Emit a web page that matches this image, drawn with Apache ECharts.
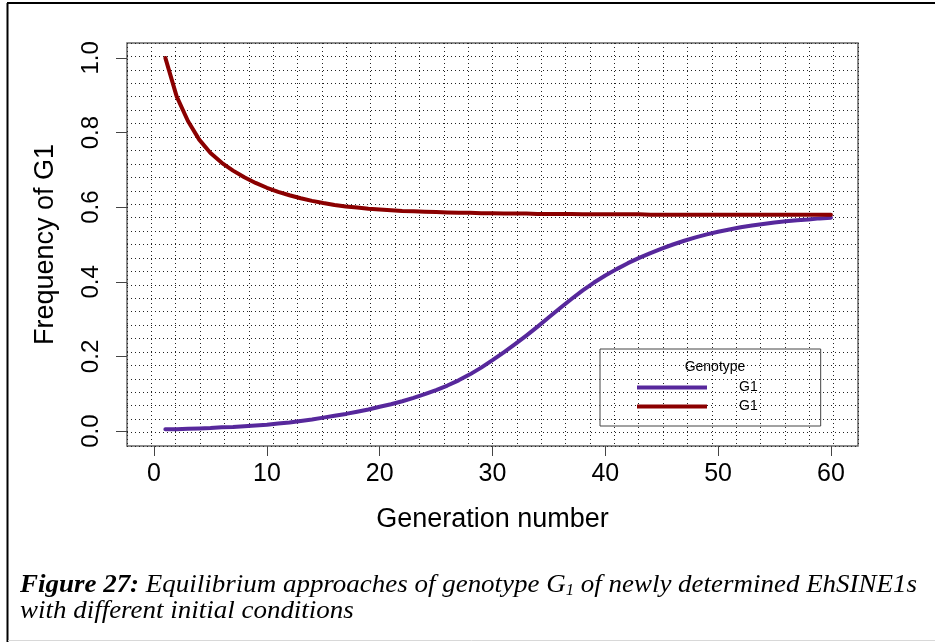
<!DOCTYPE html>
<html>
<head>
<meta charset="utf-8">
<script src="https://cdn.jsdelivr.net/npm/echarts@6/dist/echarts.min.js"></script>
<style>
html,body{margin:0;padding:0;background:#fff;}
#c{width:935px;height:642px;}
</style>
</head>
<body>
<div id="c"></div>
<script>
// ---------- data ----------
const generations = [1,2,3,4,5,6,7,8,9,10,11,12,13,14,15,16,17,18,19,20,
  21,22,23,24,25,26,27,28,29,30,31,32,33,34,35,36,37,38,39,40,
  41,42,43,44,45,46,47,48,49,50,51,52,53,54,55,56,57,58,59,60];
// G1 starting near 0
const lowStart = [0.005,0.005,0.006,0.007,0.008,0.010,0.011,0.013,0.015,0.017,
  0.020,0.023,0.027,0.031,0.036,0.041,0.046,0.052,0.058,0.065,
  0.072,0.080,0.089,0.099,0.110,0.122,0.136,0.152,0.170,0.190,
  0.211,0.233,0.256,0.280,0.305,0.330,0.354,0.377,0.398,0.417,
  0.434,0.450,0.464,0.477,0.489,0.500,0.510,0.519,0.527,0.534,
  0.540,0.546,0.551,0.555,0.559,0.562,0.565,0.567,0.570,0.572];
// G1 starting at 1
const highStart = [1.000,0.897,0.831,0.781,0.745,0.719,0.698,0.680,0.665,0.652,
  0.641,0.632,0.624,0.617,0.611,0.606,0.602,0.599,0.596,0.594,
  0.592,0.590,0.589,0.588,0.587,0.586,0.585,0.585,0.584,0.584,
  0.583,0.583,0.583,0.582,0.582,0.582,0.582,0.581,0.581,0.581,
  0.581,0.581,0.581,0.580,0.580,0.580,0.580,0.580,0.580,0.580,
  0.580,0.580,0.580,0.580,0.580,0.580,0.580,0.580,0.580,0.580];
const xTicks = [0,10,20,30,40,50,60];
const yTicks = [0,0.2,0.4,0.6,0.8,1.0];
const seriesIds = ['G1 (low start)','G1 (high start)'];
const seriesLabel = 'G1';
const legendTitle = 'Genotype';
const xTitle = 'Generation number';
const yTitle = 'Frequency of G1';
const captionBold = 'Figure 27:';
const captionA = ' Equilibrium approaches of genotype G';
const captionSub = '1';
const captionB = ' of newly determined EhSINE1s';
const captionLine2 = 'with different initial conditions';

// ---------- layout ----------
const SANS = '"Liberation Sans", Arial, Helvetica, sans-serif';
const SERIF = '"Liberation Serif", "Times New Roman", serif';
const capSize = 26, subSize = 16;

const cv = document.createElement('canvas').getContext('2d');
function tw(font, t){ cv.font = font; return cv.measureText(t).width; }
const line1W = tw('italic bold ' + capSize + 'px ' + SERIF, captionBold)
  + tw('italic ' + capSize + 'px ' + SERIF, captionA)
  + tw('italic ' + subSize + 'px ' + SERIF, captionSub)
  + tw('italic ' + capSize + 'px ' + SERIF, captionB);
const capScale = 897 / line1W;

const chart = echarts.init(document.getElementById('c'), null, {renderer:'canvas'});
const toXY = (ys) => generations.map((g,i) => [g, ys[i]]);
const gridDots = {show:true, lineStyle:{type:[1,3], color:'#222', width:1}};

const option = {
  backgroundColor: '#fff',
  animation: false,
  grid: {left:127, top:43, width:731, height:403, show:true,
         backgroundColor:'#fff', borderColor:'#666', borderWidth:1.5},
  title: {text: legendTitle, left: 710, top: 355, textAlign: 'center',
          textStyle: {fontFamily: SANS, fontSize: 14, fontWeight: 'normal', color:'#000'}},
  legend: {
    left: 600, top: 349, orient: 'vertical',
    padding: [31, 63, 12, 37],
    borderColor: '#444', borderWidth: 1,
    itemWidth: 70, itemHeight: 4, itemGap: 4, icon: 'rect',
    data: seriesIds,
    formatter: () => '{a|' + seriesLabel + '}',
    textStyle: {fontFamily: SANS, fontSize: 14, color:'#000', lineHeight: 15,
      rich: {a: {fontFamily: SANS, fontSize: 14, color:'#000', padding:[0,0,0,27]}}}
  },
  xAxis: [{
    type:'value', min:-2.4, max:62.4, position:'bottom',
    axisLine:{show:false, onZero:false},
    axisTick:{show:true, customValues: xTicks, length:10, lineStyle:{color:'#444', width:1}},
    axisLabel:{customValues: xTicks, margin:16, fontFamily:SANS, fontSize:25, color:'#000'},
    splitLine:{show:false},
    name: xTitle, nameLocation:'middle', nameGap:60,
    nameTextStyle:{fontFamily:SANS, fontSize:27, color:'#000'}
  },{
    type:'value', min:0, max:30, interval:1, position:'top',
    axisLine:{show:false, onZero:false}, axisTick:{show:false}, axisLabel:{show:false},
    splitLine: gridDots
  }],
  yAxis: [{
    type:'value', min:-0.04, max:1.04, position:'left',
    axisLine:{show:false, onZero:false},
    axisTick:{show:true, customValues: yTicks, length:11, lineStyle:{color:'#444', width:1}},
    axisLabel:{customValues: yTicks, rotate:90, margin:24, fontFamily:SANS, fontSize:24, color:'#000',
      formatter: v => v.toFixed(1)},
    splitLine:{show:false},
    name: yTitle, nameLocation:'middle', nameGap:68,
    nameTextStyle:{fontFamily:SANS, fontSize:27, color:'#000'}
  },{
    type:'value', min:0, max:30, interval:1, position:'right',
    axisLine:{show:false, onZero:false}, axisTick:{show:false}, axisLabel:{show:false},
    splitLine: gridDots
  }],
  series: [{
    name: seriesIds[0], type:'line', xAxisIndex:0, yAxisIndex:0,
    data: toXY(lowStart), symbol:'none', smooth:false,
    color:'#57289c', lineStyle:{width:4, color:'#57289c', cap:'round', join:'round'}, z:3
  },{
    name: seriesIds[1], type:'line', xAxisIndex:0, yAxisIndex:0,
    data: toXY(highStart), symbol:'none', smooth:false,
    color:'#8b0000', lineStyle:{width:4, color:'#8b0000', cap:'round', join:'round'}, z:4
  }],
  graphic: [
    {type:'line', shape:{x1:7, y1:3, x2:935, y2:3}, style:{stroke:'#000', lineWidth:2}, silent:true},
    {type:'line', shape:{x1:7.5, y1:3, x2:7.5, y2:642}, style:{stroke:'#000', lineWidth:2}, silent:true},
    {type:'line', shape:{x1:8, y1:640.5, x2:935, y2:640.5}, style:{stroke:'#d8d8d8', lineWidth:1}, silent:true},
    {type:'text', x:20, y:585, scaleX:capScale, scaleY:1, originX:0, originY:0,
      style:{
        text: '{b|' + captionBold + '}{i|' + captionA + '}{s|' + captionSub + '}{i|' + captionB + '}',
        verticalAlign:'middle', align:'left',
        rich:{
          b:{fontFamily:SERIF, fontStyle:'italic', fontWeight:'bold', fontSize:capSize, lineHeight:27, verticalAlign:'bottom', fill:'#000'},
          i:{fontFamily:SERIF, fontStyle:'italic', fontSize:capSize, lineHeight:27, verticalAlign:'bottom', fill:'#000'},
          s:{fontFamily:SERIF, fontStyle:'italic', fontSize:subSize, lineHeight:15, verticalAlign:'bottom', fill:'#000'}
        }
      }},
    {type:'text', x:20, y:611, scaleX:capScale, scaleY:1, originX:0, originY:0,
      style:{text: captionLine2, fontFamily:SERIF, fontStyle:'italic', fontSize:capSize,
        verticalAlign:'middle', align:'left', fill:'#000'}}
  ]
};
chart.setOption(option);
</script>
</body>
</html>
